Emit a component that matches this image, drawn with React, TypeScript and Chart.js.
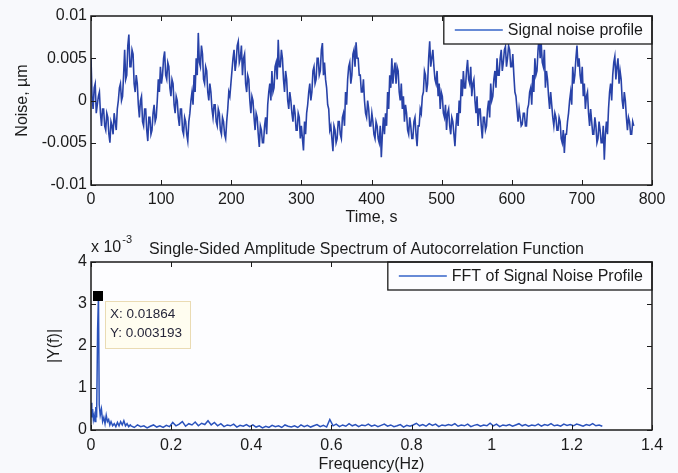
import { useEffect, useRef } from "react";
import { Chart, registerables } from "chart.js";

Chart.register(...registerables);

const FONT = '"Liberation Sans", Arimo, Arial, Helvetica, sans-serif';
const INK = "#1b1b1b";

// ---------- top panel: signal noise profile ----------
// values in units of 1e-3 µm, one sample every 1.5 s (t = 0 … 774 s)
const NOISE_SAMPLE_STEP_S = 1.5;
const noiseMilli = [
  5, 0.5, -1, 1.5, 2, -1.5, -0.5, 0.5, 1, -1.5, -3, -1, -1, -3, -3.5, -1.5, -2, -4, -5, -2.5,
  -3, -4, -1.5, -2.5, -3.5, -1, 0, 1.5, 2, 0, 0.5, 3, 6, 2.5, 3, 6.5, 7.8, 4, 4, 6,
  5.5, 2, 1, 3, 2, -0.5, -2, 0, 0.5, -2.5, -3, -1, -1, -3.5, -4.8, -2, -2, -4, -3.5, -1.5,
  -0.5, -2.5, -2, 0, 2.5, 1, 4, 2, 3, 5, 5.8, 3, 2.5, 4.5, 4, 1.5, 0.5, 2.5, 2, -0.5,
  -1.5, 0.5, 0, -2, -3, -1, -1, -3.5, -4, -2, -2.5, -4, -4.8, -2.5, -1.5, 0, 1, -0.5, 3, 1,
  5, 3, 8, 4.5, 4, 6.5, 5.5, 2.5, 2, 4, 3.5, 1, 0, 2, 1, -1, -2, -0.5, -0.5, -2.5,
  -3, -1, -1.5, -3.5, -4, -2, -2.5, -4, -4.5, -2.5, -1, 1, 0.5, 2, 3.5, 5, 6, 3.5, 4.5, 6.5,
  7, 4.5, 5, 6.5, 3, 5, 5.5, 2, 1, 3, 2.5, 0, -1.5, 0.5, 0, -2, -3.5, -1.5, -2, -4,
  -5.5, -3, -3.5, -5, -5, -3, -2, -4, -0.5, 1, 2, 0, 3.5, 1, 1.5, 4, 4.5, 2.5, 7.2, 4,
  4, 6, 5, 2.5, 1, 3.5, 2.5, 0, -1, 1, 0, -1.5, -2.5, -0.5, -1.5, -3.5, -3.5, -1.5, -2, -4.5,
  -3, -4.5, -5.9, -2.5, -4, -1.5, -0.5, 1, 2, 0, 1, 3.5, 4, 2, 2.5, 5, 5, 3, 3.5, 6,
  6.8, 3, 4.5, 2.5, 1.5, -0.5, -1, -3.5, -3, -4.5, -6, -3, -3.5, -5, -4.5, -2.5, -2.5, -4, -4.5, -2,
  -1.5, -3, 1, -0.5, 2.5, 4, 4.5, 2, 3, 5.5, 6, 4, 6.9, 5, 5, 3, 3, 1, 1, 2.5,
  0, -1.5, -2, 0, -1, -3, -3, -1.5, -2.5, -4, -4.5, -2.5, -3, -4.5, -5, -3, -6.7, -4, -2, -4,
  -1.5, -3, 1, -1, 3, 1.5, 5, 2, 3.5, 4.5, 2, 4, 3.5, 1, 0, 2, -1, 0.5, -2.5, -0.5,
  -1.5, -3.5, -4, -2, -3, -4.5, -4.5, -2.5, -2, -4, -5.4, -3, -3, -1, -1.5, 0.5, 1, 3.5, 3, 1,
  2, 5, 7, 4, 5, 6, 4, 2.5, 2, 3.5, 0.5, 2, -1, 1, 0.5, -1.5, -2, -0.5, -3.5, -1.5,
  -1, -3, -4, -2, -2.5, -4, -5.4, -3, -1.5, -3, 0, -1.5, 2.5, 0.5, 3.5, 1.5, 1.5, 3.5, 4.8, 2.5,
  2, 4, 0.5, 2, 2.5, 0, -1.5, 0.5, -3, -1, -1, -3, -4.5, -2, -2, -3.5, -3, -1, 0, -2,
  2, 0, 0.5, 2.5, 3.5, 1.5, 5, 3, 3, 5, 6, 3.5, 4.5, 6, 6.4, 4, 5, 6.5, 6, 4,
  4, 5.5, 3, 1, 0.5, -1, -2.5, -1, -2, -3, -2.8, -1.5, -1.5, -3, -3, -1, -0.5, 1, 1.5, -0.5,
  3, 1, 5, 3, 3.5, 6, 7.5, 5, 6.8, 4.5, 4, 6, 1.5, 3.5, 2.5, 0.5, -1, 1, -0.5, -2,
  -3, -1.5, -2, -3.5, -3.5, -2, -2.5, -4.5, -5, -3.5, -6.2, -4, -4, -2.5, -1.5, 0, 1, -0.5, 4, 2,
  3, 5, 6.5, 4, 5, 3, 2, 4, 0.5, 2, -1, 0.5, 1, -1.5, -3, -1, -2.5, -4, -4, -2,
  -3, -5, -4.5, -2.5, -3.5, -5, -5, -3, -7, -4, -2.5, -4, -1, 1, 2, 0, 3, 4.5, 5.2, 2.5,
  4, 5, 2, 3.5, 2.5, 0, -1, 1, 0, -2, -3.5, -2, -2.5, -4, -4, -2.5, -3,
];
const timeTicks = [0, 100, 200, 300, 400, 500, 600, 700, 800];
const timeTickLabels = ["0", "100", "200", "300", "400", "500", "600", "700", "800"];
const noiseTicks = [-0.01, -0.005, 0, 0.005, 0.01];
const noiseTickLabels = ["-0.01", "-0.005", "0", "0.005", "0.01"];

// ---------- bottom panel: FFT (amplitudes in units of 1e-3) ----------
const fftLowFreq = [
  0, 0.002, 0.004, 0.006, 0.008, 0.01, 0.012, 0.014, 0.0165, 0.01864,
  0.0205, 0.023, 0.026, 0.029, 0.032, 0.035, 0.038, 0.041, 0.044, 0.047,
  0.05, 0.054, 0.058, 0.062, 0.066, 0.07, 0.074, 0.078, 0.082, 0.086,
  0.09, 0.094, 0.098,
];
const fftLowAmpMilli = [
  0.65, 0.3, 0.5, 0.25, 0.35, 0.2, 0.55, 0.3, 2.4, 3.193,
  0.6, 0.35, 0.5, 0.2, 0.3, 0.15, 0.35, 0.2, 0.25, 0.12,
  0.2, 0.1, 0.15, 0.08, 0.18, 0.1, 0.2, 0.12, 0.22, 0.1,
  0.15, 0.08, 0.12,
];
const FFT_FLOOR_START_HZ = 0.1;
const FFT_FLOOR_STEP_HZ = 0.008;
const fftFloorAmpMilli = [
  0.1, 0.06, 0.12, 0.08, 0.1, 0.05, 0.09, 0.12, 0.07, 0.1, 0.06, 0.11, 0.08,
  0.18, 0.1, 0.14, 0.2, 0.09, 0.15, 0.12, 0.19, 0.1, 0.16, 0.13, 0.22,
  0.12, 0.18, 0.1, 0.15, 0.08, 0.12, 0.1, 0.14, 0.07, 0.11, 0.09, 0.13, 0.08,
  0.12, 0.07, 0.1, 0.05, 0.09, 0.06, 0.11, 0.08, 0.1, 0.06, 0.12, 0.09,
  0.07, 0.1, 0.06, 0.12, 0.08, 0.11, 0.07, 0.1, 0.13, 0.08, 0.11, 0.07, 0.25,
  0.1, 0.14, 0.08, 0.12, 0.09, 0.15, 0.1, 0.13, 0.08, 0.12, 0.1, 0.14,
  0.09, 0.12, 0.08, 0.11, 0.14, 0.09, 0.12, 0.08, 0.1, 0.13, 0.07, 0.11, 0.09,
  0.12, 0.16, 0.1, 0.13, 0.09, 0.15, 0.11, 0.14, 0.08, 0.12, 0.1, 0.13,
  0.11, 0.15, 0.09, 0.12, 0.1, 0.14, 0.08, 0.11, 0.13, 0.09, 0.12, 0.1, 0.16,
  0.1, 0.14, 0.08, 0.12, 0.1, 0.13, 0.09, 0.12, 0.15, 0.1, 0.13, 0.09,
  0.12, 0.1, 0.14, 0.09, 0.13, 0.11, 0.15, 0.1, 0.12, 0.09, 0.14, 0.11, 0.13,
  0.1, 0.14, 0.12, 0.09, 0.13, 0.11, 0.15, 0.1, 0.12, 0.09,
];
const freqTicks = [0, 0.2, 0.4, 0.6, 0.8, 1, 1.2, 1.4];
const freqTickLabels = ["0", "0.2", "0.4", "0.6", "0.8", "1", "1.2", "1.4"];
const ampTicks = [0, 1, 2, 3, 4];
const ampTickLabels = ["0", "1", "2", "3", "4"];
const DATATIP_X = 0.01864;
const DATATIP_Y = 0.003193;

const PLOT_BG = "#fdfdff";

const matlabAxes = {
  id: "matlabAxes",
  beforeDatasetsDraw(chart: any) {
    const { ctx, chartArea: a } = chart;
    ctx.save();
    ctx.fillStyle = PLOT_BG;
    ctx.fillRect(a.left, a.top, a.width, a.height);
    ctx.restore();
  },
  afterDraw(chart: any, _args: any, opts: any) {
    const { ctx, chartArea: a } = chart;
    const xs = chart.scales.x;
    const ys = chart.scales.y;
    ctx.save();
    // inner ticks on all four sides
    ctx.strokeStyle = INK;
    ctx.lineWidth = 1;
    const TL = 5;
    ctx.beginPath();
    xs.ticks.forEach((t: any) => {
      const p = Math.round(xs.getPixelForValue(t.value)) + 0.5;
      ctx.moveTo(p, a.bottom);
      ctx.lineTo(p, a.bottom - TL);
      ctx.moveTo(p, a.top);
      ctx.lineTo(p, a.top + TL);
    });
    ys.ticks.forEach((t: any) => {
      const p = Math.round(ys.getPixelForValue(t.value)) + 0.5;
      ctx.moveTo(a.left, p);
      ctx.lineTo(a.left + TL, p);
      ctx.moveTo(a.right, p);
      ctx.lineTo(a.right - TL, p);
    });
    ctx.stroke();

    // legend (inside, top-right)
    const ds = chart.data.datasets[0];
    ctx.font = `16px ${FONT}`;
    const tw = ctx.measureText(ds.label).width;
    const bw = 11 + 48 + 5 + tw + 9;
    const bh = 28;
    const bx = a.right - bw;
    const by = a.top;
    ctx.fillStyle = PLOT_BG;
    ctx.fillRect(bx, by, bw, bh);
    ctx.lineWidth = 1.3;
    ctx.strokeStyle = INK;
    ctx.strokeRect(bx, by, bw, bh);
    ctx.strokeStyle = "#3563c8";
    ctx.lineWidth = 1.3;
    ctx.beginPath();
    ctx.moveTo(bx + 11, by + bh / 2);
    ctx.lineTo(bx + 59, by + bh / 2);
    ctx.stroke();
    ctx.fillStyle = INK;
    ctx.textAlign = "left";
    ctx.textBaseline = "middle";
    ctx.fillText(ds.label, bx + 64, by + bh / 2 + 1);

    // axes frame
    ctx.lineWidth = 1.5;
    ctx.strokeStyle = INK;
    ctx.strokeRect(a.left, a.top, a.width, a.height);

    if (opts && opts.title) {
      ctx.fillStyle = INK;
      ctx.font = `16px ${FONT}`;
      ctx.textAlign = "center";
      ctx.textBaseline = "middle";
      ctx.fillText(opts.title, (a.left + a.right) / 2 - 5, a.top - 12);
      // exponent label
      ctx.textAlign = "left";
      ctx.fillText("x 10", a.left, a.top - 14);
      const w = ctx.measureText("x 10").width;
      ctx.font = `11px ${FONT}`;
      ctx.fillText("-3", a.left + w + 1, a.top - 22);
    }

    if (opts && opts.datatip) {
      const px = xs.getPixelForValue(DATATIP_X);
      const py = ys.getPixelForValue(DATATIP_Y * 1000);
      ctx.fillStyle = "#000";
      ctx.fillRect(Math.round(px - 5), Math.round(py - 5), 10, 10);
      const tx = Math.round(px + 7);
      const ty = Math.round(py + 5);
      ctx.fillStyle = "#fffdf0";
      ctx.fillRect(tx, ty, 85, 47);
      ctx.strokeStyle = "#eadbb3";
      ctx.lineWidth = 1;
      ctx.strokeRect(tx + 0.5, ty + 0.5, 85, 47);
      ctx.fillStyle = "#26263a";
      ctx.font = `13.5px ${FONT}`;
      ctx.textAlign = "left";
      ctx.textBaseline = "middle";
      ctx.fillText(`X: ${DATATIP_X}`, tx + 5, ty + 13);
      ctx.fillText(`Y: ${DATATIP_Y}`, tx + 5, ty + 32);
    }
    ctx.restore();
  },
};

function linearAxis(o: {
  min: number;
  max: number;
  ticks: number[];
  labels: string[];
  pos: "x" | "y";
  size: number;
  tickPad: number;
  title: string;
  titlePad: any;
  titleLineHeight?: number;
}) {
  return {
    type: "linear",
    min: o.min,
    max: o.max,
    afterBuildTicks: (s: any) => {
      s.ticks = o.ticks.map((v) => ({ value: v }));
    },
    afterFit: (s: any) => {
      if (o.pos === "x") s.height = o.size;
      else s.width = o.size;
    },
    grid: { display: false, drawTicks: false },
    border: { display: false },
    ticks: {
      autoSkip: false,
      maxRotation: 0,
      padding: o.tickPad,
      color: INK,
      font: { family: FONT, size: 16 },
      callback: (_v: any, i: number) => o.labels[i],
    },
    title: {
      display: true,
      text: o.title,
      color: INK,
      font: { family: FONT, size: 16, lineHeight: o.titleLineHeight ?? 1.2 },
      padding: o.titlePad,
    },
  };
}

export default function App() {
  const topRef = useRef<HTMLCanvasElement | null>(null);
  const botRef = useRef<HTMLCanvasElement | null>(null);

  useEffect(() => {
    const noisePoints = noiseMilli.map((v, i) => ({ x: i * NOISE_SAMPLE_STEP_S, y: v / 1000 }));
    const fftPoints = [
      ...fftLowFreq.map((f, i) => ({ x: f, y: fftLowAmpMilli[i] })),
      ...fftFloorAmpMilli.map((v, i) => ({ x: FFT_FLOOR_START_HZ + i * FFT_FLOOR_STEP_HZ, y: v })),
    ];

    const top = new Chart(topRef.current as HTMLCanvasElement, {
      type: "line",
      data: {
        datasets: [
          {
            label: "Signal noise profile",
            data: noisePoints,
            borderColor: "#2842a8",
            borderWidth: 1.6,
            pointRadius: 0,
            tension: 0,
            fill: false,
          },
        ],
      },
      options: {
        responsive: false,
        animation: false,
        events: [],
        layout: { padding: { top: 16, right: 26, left: 0, bottom: 0 } },
        plugins: {
          legend: { display: false },
          tooltip: { enabled: false },
          title: { display: false },
          matlabAxes: {},
        } as any,
        scales: {
          x: linearAxis({
            min: 0, max: 800, ticks: timeTicks, labels: timeTickLabels, pos: "x", size: 45,
            tickPad: 5, title: "Time, s", titlePad: { top: 0, bottom: 2.4 },
          }),
          y: linearAxis({
            min: -0.01, max: 0.01, ticks: noiseTicks, labels: noiseTickLabels, pos: "y", size: 91,
            tickPad: 4, title: "Noise, µm", titlePad: { top: 13.4, bottom: 0 },
          }),
        } as any,
      },
      plugins: [matlabAxes as any],
    });

    const bot = new Chart(botRef.current as HTMLCanvasElement, {
      type: "line",
      data: {
        datasets: [
          {
            label: "FFT of Signal Noise Profile",
            data: fftPoints,
            borderColor: "#2a52bc",
            borderWidth: 1.5,
            pointRadius: 0,
            tension: 0,
            fill: false,
          },
        ],
      },
      options: {
        responsive: false,
        animation: false,
        events: [],
        layout: { padding: { top: 32, right: 26, left: 0, bottom: 0 } },
        plugins: {
          legend: { display: false },
          tooltip: { enabled: false },
          title: { display: false },
          matlabAxes: {
            title: "Single-Sided Amplitude Spectrum of Autocorrelation Function",
            datatip: true,
          },
        } as any,
        scales: {
          x: linearAxis({
            min: 0, max: 1.4, ticks: freqTicks, labels: freqTickLabels, pos: "x", size: 43,
            tickPad: 6, title: "Frequency(Hz)", titlePad: { top: 0, bottom: 0 }, titleLineHeight: 1,
          }),
          y: linearAxis({
            min: 0, max: 4, ticks: ampTicks, labels: ampTickLabels, pos: "y", size: 91,
            tickPad: 4, title: "|Y(f)|", titlePad: { top: 45.4, bottom: 0 },
          }),
        } as any,
      },
      plugins: [matlabAxes as any],
    });

    return () => {
      top.destroy();
      bot.destroy();
    };
  }, []);

  return (
    <div
      style={{
        position: "absolute",
        left: 0,
        top: 0,
        width: 678,
        height: 473,
        background: "#f8f9fc",
        overflow: "hidden",
      }}
    >
      <canvas
        ref={topRef}
        width={678}
        height={230}
        style={{ position: "absolute", left: 0, top: 0, width: 678, height: 230 }}
      />
      <canvas
        ref={botRef}
        width={678}
        height={243}
        style={{ position: "absolute", left: 0, top: 230, width: 678, height: 243 }}
      />
    </div>
  );
}
